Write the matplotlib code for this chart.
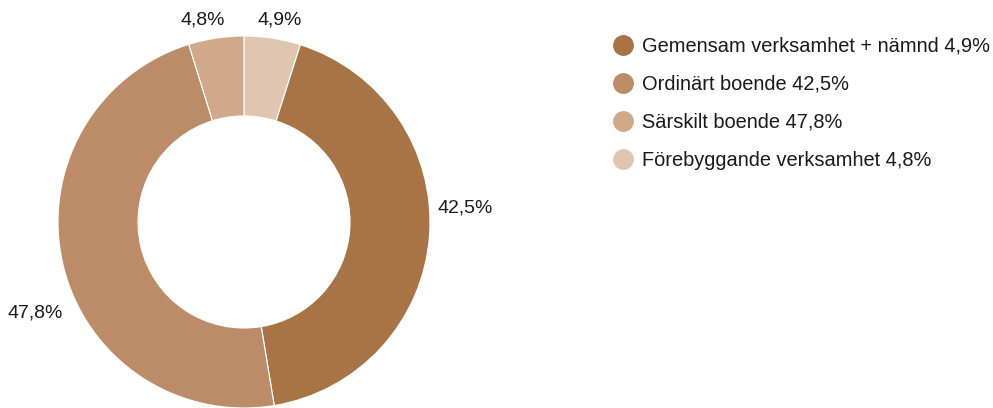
import numpy as np
import matplotlib.pyplot as plt
from matplotlib.lines import Line2D

plt.rcParams['font.family'] = ['Liberation Sans', 'DejaVu Sans']

# data
values = [4.9, 42.5, 47.8, 4.8]
slice_labels = ['4,9%', '42,5%', '47,8%', '4,8%']
slice_colors = ['#e0c6b0', '#a87345', '#bb8c67', '#cfa98a']

legend_labels = ['Gemensam verksamhet + nämnd 4,9%', 'Ordinärt boende 42,5%',
                 'Särskilt boende 47,8%', 'Förebyggande verksamhet 4,8%']
legend_colors = ['#a87345', '#bb8c67', '#cfa98a', '#e0c6b0']

# label placement (data units, radius = 1)
label_pos = [(0.19, 1.086, 'center'), (1.043, 0.075, 'left'),
             (-0.973, -0.489, 'right'), (-0.22, 1.086, 'center')]

fig = plt.figure(figsize=(9.93, 4.08), dpi=100)
ax = fig.add_axes([58 / 993, 0, 372 / 993, 372 / 408])

ax.pie(values, colors=slice_colors, startangle=90, counterclock=False,
       radius=1, wedgeprops=dict(width=0.43, edgecolor='white', linewidth=0.8))
ax.set_xlim(-1, 1)
ax.set_ylim(-1, 1)
ax.set_aspect('equal')
ax.axis('off')

for lab, (x, y, ha) in zip(slice_labels, label_pos):
    ax.text(x, y, lab, ha=ha, va='center', fontsize=14, color='#1a1a1a',
            clip_on=False)

handles = [Line2D([], [], marker='o', linestyle='none', markersize=14,
                  markerfacecolor=c, markeredgecolor=c) for c in legend_colors]
fig.legend(handles, legend_labels, loc='upper left',
           bbox_to_anchor=(601 / 993, 1 - 27 / 408), frameon=False,
           fontsize=14.4, labelspacing=0.95, handletextpad=0.35,
           handlelength=1.2, borderpad=0, labelcolor='#1a1a1a')

plt.savefig('out.png', dpi=100)
